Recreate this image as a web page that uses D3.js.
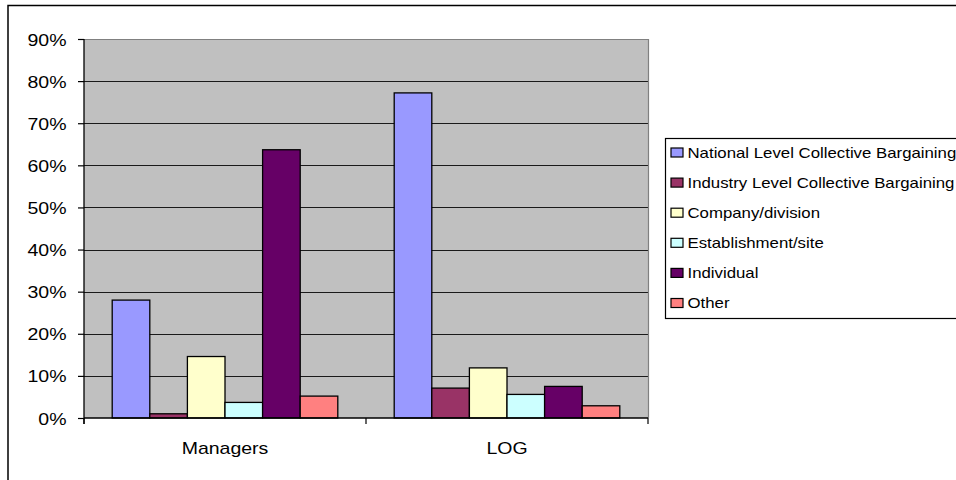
<!DOCTYPE html>
<html>
<head>
<meta charset="utf-8">
<script src="https://cdn.jsdelivr.net/npm/d3@7"></script>
<style>
  html, body { margin: 0; padding: 0; background: #fff; }
  svg { display: block; font-family: "Liberation Sans", Arial, sans-serif; }
</style>
</head>
<body>
<svg id="chart" width="956" height="480"></svg>
<script>
const categories = ["Managers", "LOG"];
const seriesNames = [
  "National Level Collective Bargaining",
  "Industry Level Collective Bargaining",
  "Company/division",
  "Establishment/site",
  "Individual",
  "Other"
];
const seriesColors = ["#9999FF", "#993366", "#FFFFCC", "#CCFFFF", "#660066", "#FF8080"];
const managersValues = [0.280, 0.010, 0.146, 0.037, 0.637, 0.052];
const logValues = [0.772, 0.071, 0.119, 0.056, 0.075, 0.029];
const yTicks = [0, 0.1, 0.2, 0.3, 0.4, 0.5, 0.6, 0.7, 0.8, 0.9];

const valuesByCategory = { "Managers": managersValues, "LOG": logValues };
const SX = 1.22; // horizontal text stretch of the original

const svg = d3.select("#chart");
const pLeft = 84, pRight = 648, pTop = 39, pBottom = 418;

// outer chart border (clipped by the picture on right and bottom)
svg.append("rect").attr("x", 8).attr("y", 5.5).attr("width", 1000).attr("height", 500)
  .attr("fill", "#fff").attr("stroke", "#000").attr("stroke-width", 1.5);

const y = d3.scaleLinear().domain([0, 0.9]).range([pBottom, pTop]);
const x0 = d3.scaleBand().domain(categories).range([pLeft, pRight]).paddingInner(0).paddingOuter(0);
const x1 = d3.scaleBand().domain(seriesNames).range([0, x0.bandwidth()]).paddingInner(0).paddingOuter(0.75);

// plot background
svg.append("rect").attr("x", pLeft).attr("y", pTop).attr("width", pRight - pLeft).attr("height", pBottom - pTop)
  .attr("fill", "#C0C0C0").attr("stroke", "none");

// gridlines
const grid = svg.append("g").attr("transform", `translate(${pLeft},0)`)
  .call(d3.axisLeft(y).tickValues(yTicks.filter(v => v > 0)).tickSize(-(pRight - pLeft)).tickFormat(""));
grid.select(".domain").remove();
grid.selectAll("line").attr("stroke", "#1a1a1a").attr("stroke-width", 1).attr("shape-rendering", "crispEdges");

// plot border top/right (grey)
svg.append("path").attr("d", `M${pLeft},${pTop + 0.5}H${pRight + 0.5}V${pBottom}`)
  .attr("fill", "none").attr("stroke", "#808080").attr("stroke-width", 1.2);

// bars
const groups = svg.append("g").selectAll("g").data(categories).join("g")
  .attr("transform", d => `translate(${x0(d)},0)`);
groups.selectAll("rect").data(c => seriesNames.map((s, i) => ({ s, i, v: valuesByCategory[c][i] })))
  .join("rect")
  .attr("x", d => x1(d.s))
  .attr("y", d => y(d.v))
  .attr("width", x1.bandwidth())
  .attr("height", d => y(0) - y(d.v))
  .attr("fill", d => seriesColors[d.i])
  .attr("stroke", "#000")
  .attr("stroke-width", 1.3);

// y axis
const yAxis = svg.append("g").attr("transform", `translate(${pLeft},0)`)
  .call(d3.axisLeft(y).tickValues(yTicks).tickSize(6).tickFormat(d3.format(".0%")));
yAxis.select(".domain").attr("d", `M0,${pTop}V${pBottom + 6}`).attr("stroke", "#000").attr("stroke-width", 1.3);
yAxis.selectAll(".tick line").attr("stroke", "#000").attr("stroke-width", 1.2);
yAxis.selectAll(".tick text")
  .attr("x", null).attr("dy", null)
  .attr("transform", `translate(-17.5,6) scale(${SX},1)`)
  .attr("text-anchor", "end")
  .attr("font-size", 16).attr("fill", "#000")
  .attr("font-family", "'Liberation Sans', Arial, sans-serif");

// x axis
const xAxis = svg.append("g").attr("transform", `translate(0,${pBottom})`)
  .call(d3.axisBottom(x0).tickSize(0).tickFormat(""));
xAxis.select(".domain").attr("d", `M${pLeft},0H${pRight}`).attr("stroke", "#000").attr("stroke-width", 1.5);
xAxis.selectAll(".tick").remove();
// boundary tick marks
const boundaries = [pLeft, ...categories.map(c => x0(c) + x0.bandwidth())];
xAxis.selectAll("line.bt").data(boundaries).join("line").attr("class", "bt")
  .attr("x1", d => d).attr("x2", d => d).attr("y1", 0).attr("y2", 6)
  .attr("stroke", "#000").attr("stroke-width", 1.2);
// category labels
svg.append("g").selectAll("text").data(categories).join("text")
  .attr("transform", d => `translate(${x0(d) + x0.bandwidth() / 2},454) scale(${SX},1)`)
  .attr("text-anchor", "middle").attr("font-size", 16).attr("fill", "#000")
  .text(d => d);

// legend
const lg = svg.append("g");
lg.append("rect").attr("x", 665.5).attr("y", 138.5).attr("width", 400).attr("height", 180)
  .attr("fill", "#fff").attr("stroke", "#000").attr("stroke-width", 1.2);
const items = lg.selectAll("g.item").data(seriesNames).join("g").attr("class", "item")
  .attr("transform", (d, i) => `translate(0,${152.5 + i * 30.1})`);
items.append("rect").attr("x", 671).attr("y", -4.5).attr("width", 12).attr("height", 9)
  .attr("fill", (d, i) => seriesColors[i]).attr("stroke", "#000").attr("stroke-width", 1.2);
items.append("text")
  .attr("transform", `translate(687.5,5) scale(1.2,1)`)
  .attr("font-size", 14).attr("fill", "#000")
  .text(d => d);
</script>
</body>
</html>
